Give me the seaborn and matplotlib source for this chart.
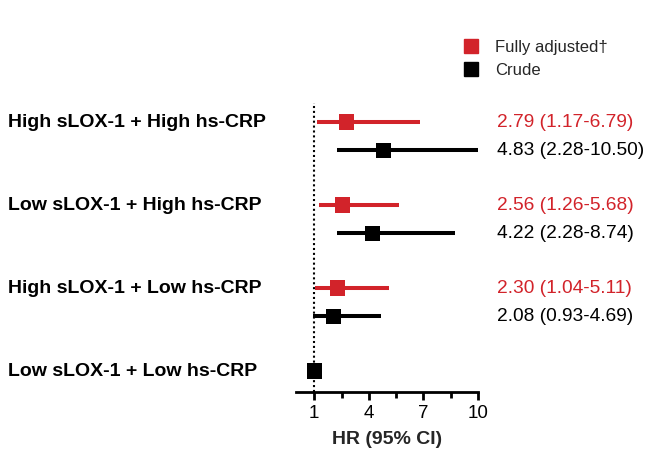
import matplotlib
matplotlib.use("Agg")
import matplotlib.pyplot as plt
from matplotlib.lines import Line2D
from matplotlib.transforms import blended_transform_factory
import numpy as np
import pandas as pd
import seaborn as sns

# Hazard ratios (95% CI) for the sLOX-1 / hs-CRP groups
groups = ["High sLOX-1 + High hs-CRP", "Low sLOX-1 + High hs-CRP",
          "High sLOX-1 + Low hs-CRP", "Low sLOX-1 + Low hs-CRP"]
adj_hr = [2.79, 2.56, 2.30]
adj_lo = [1.17, 1.26, 1.04]
adj_hi = [6.79, 5.68, 5.11]
crude_hr = [4.83, 4.22, 2.08, 1.00]
crude_lo = [2.28, 2.28, 0.93, 1.00]
crude_hi = [10.50, 8.74, 4.69, 1.00]
models = ["Fully adjusted\u2020", "Crude"]
x_ticks = [1, 4, 7, 10]

RED = "#D2232A"
BLACK = "#000000"

sns.set_theme(style="white")
plt.rcParams["font.family"] = ["Liberation Sans", "DejaVu Sans"]

rows = []
for i, g in enumerate(groups):
    if i < len(adj_hr):
        rows.append(dict(group=g, model=models[0], hr=adj_hr[i], lo=adj_lo[i],
                         hi=adj_hi[i], y=i))
        rows.append(dict(group=g, model=models[1], hr=crude_hr[i], lo=crude_lo[i],
                         hi=crude_hi[i], y=i + 0.34))
    else:
        # reference group: crude only, on the label row
        rows.append(dict(group=g, model=models[1], hr=crude_hr[i], lo=crude_lo[i],
                         hi=crude_hi[i], y=i))
df = pd.DataFrame(rows)
palette = {models[0]: RED, models[1]: BLACK}

W, H = 647, 451
fig = plt.figure(figsize=(W / 100, H / 100), dpi=100)
ax = fig.add_axes([296 / W, 1 - 392 / H, (478 - 296) / W, (392 - 103) / H])

# confidence interval bars
for _, r in df.iterrows():
    ax.hlines(r["y"], r["lo"], r["hi"], color=palette[r["model"]], lw=2.9, zorder=2)

sns.scatterplot(data=df, x="hr", y="y", hue="model", palette=palette, marker="s",
                s=118, linewidth=0, legend=False, ax=ax, zorder=3)

# line of no effect
ax.axvline(1, color="black", ls=(0, (1, 1.35)), lw=1.5, zorder=1)

ax.set_xlim(0, 10)
ax.set_ylim(3.253, -0.229)
ax.set_xticks(x_ticks)
ax.set_xticks([2.5, 5.5, 8.5], minor=True)
ax.set_yticks([])
for side in ["left", "right", "top"]:
    ax.spines[side].set_visible(False)
ax.spines["bottom"].set_linewidth(2)
ax.spines["bottom"].set_color("black")
ax.tick_params(axis="x", which="major", direction="out", length=6, width=2,
               bottom=True, labelsize=13.5, pad=3, colors="black")
ax.tick_params(axis="x", which="minor", direction="out", length=4, width=2,
               bottom=True, colors="black")
ax.set_xlabel("HR (95% CI)", fontsize=14, fontweight="bold", labelpad=7)
ax.set_ylabel("")

# group labels on the left
tl = blended_transform_factory(fig.transFigure, ax.transData)
for i, g in enumerate(groups):
    ax.text(8 / W, i, g, transform=tl, ha="left", va="center", fontsize=14,
            fontweight="bold", color="black", clip_on=False)

# HR (95% CI) text on the right
for _, r in df.iterrows():
    if r["group"] == groups[-1]:
        continue
    txt = f"{r['hr']:.2f} ({r['lo']:.2f}-{r['hi']:.2f})"
    ax.text(497 / W, r["y"], txt, transform=tl, ha="left", va="center",
            fontsize=13.8, color=palette[r["model"]], clip_on=False)

handles = [Line2D([], [], marker="s", ls="none", color=palette[m], markersize=9.4)
           for m in models]
fig.legend(handles, models, loc="upper left", bbox_to_anchor=(463 / W, 1 - 40 / H),
           frameon=False, fontsize=12, handlelength=1.0, handletextpad=0.92,
           labelspacing=0.48, borderpad=0, borderaxespad=0)

fig.savefig("out.png", dpi=100, facecolor="white")
